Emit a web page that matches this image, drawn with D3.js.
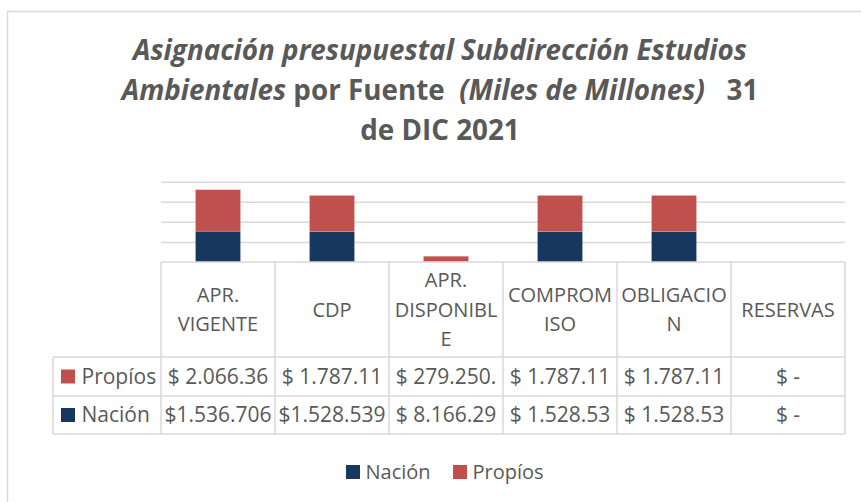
<!DOCTYPE html>
<html>
<head>
<meta charset="utf-8">
<script src="https://cdn.jsdelivr.net/npm/d3@7"></script>
<style>
  body { margin: 0; background: #fff; }
  text { font-family: "Open Sans", sans-serif; fill: #595959; }
</style>
</head>
<body>
<script>
// data
var categories = ["APR. VIGENTE", "CDP", "APR. DISPONIBLE", "COMPROMISO", "OBLIGACION", "RESERVAS"];
var headerLines = [["APR.", "VIGENTE"], ["CDP"], ["APR.", "DISPONIBL", "E"], ["COMPROM", "ISO"], ["OBLIGACIO", "N"], ["RESERVAS"]];
var nacion = [1536706, 1528539, 8166, 1528539, 1528539, 0];
var propios = [2066360, 1787110, 279250, 1787110, 1787110, 0];
// labels as shown (cut off by the table cells)
var nacionLabels = ["$1.536.706", "$1.528.539", "$ 8.166.29", "$ 1.528.53", "$ 1.528.53", "$ -"];
var propiosLabels = ["$ 2.066.36", "$ 1.787.11", "$ 279.250.", "$ 1.787.11", "$ 1.787.11", "$ -"];
var gridTicks = [1000000, 2000000, 3000000, 4000000];

var W = 861, H = 502;
var colorNacion = "#17375e", colorPropios = "#c0504d", lineColor = "#d9d9d9";

var svg = d3.select("body").append("svg")
    .attr("width", W)
    .attr("height", H);

// outer chart border
svg.append("rect")
    .attr("x", 7.5).attr("y", 11.5)
    .attr("width", 880).attr("height", 520)
    .attr("fill", "#fff")
    .attr("stroke", lineColor)
    .attr("stroke-width", 1.5);

// title
var title = [
    [{ t: "Asignación presupuestal Subdirección Estudios", i: true }],
    [{ t: "Ambientales", i: true }, { t: " por Fuente  ", i: false }, { t: "(Miles de Millones)", i: true }, { t: "   31", i: false }],
    [{ t: "de DIC 2021", i: false }]
];
var titleY = [60, 100, 140];
var titleNodes = [];
title.forEach(function (parts, k) {
    var t = svg.append("text")
        .attr("x", 440)
        .attr("y", titleY[k])
        .attr("text-anchor", "middle")
        .style("font-size", "28px")
        .style("font-weight", "bold")
        .style("white-space", "pre")
        .attr("xml:space", "preserve");
    parts.forEach(function (p) {
        t.append("tspan").text(p.t).style("font-style", p.i ? "italic" : "normal");
    });
    titleNodes.push(t);
});
// fit to the width of the original title (its font is narrower)
var ratio = 614 / titleNodes[0].node().getComputedTextLength();
titleNodes.forEach(function (t) {
    t.attr("textLength", t.node().getComputedTextLength() * ratio)
        .attr("lengthAdjust", "spacingAndGlyphs");
});

// plot area
var left = 161, right = 845, base = 262;
var x = d3.scaleBand().domain(categories).range([left, right]);
var y = d3.scaleLinear().domain([0, 4000000]).range([base, 181.7]);

svg.append("g")
    .attr("transform", "translate(" + left + ",0)")
    .call(d3.axisLeft(y).tickValues(gridTicks).tickSize(-(right - left)).tickFormat(""))
    .call(function (g) { g.select(".domain").remove(); })
    .selectAll("line")
    .attr("stroke", lineColor)
    .attr("stroke-width", 1.5);

var stacked = d3.stack().keys(["nacion", "propios"])(categories.map(function (c, i) {
    return { cat: c, nacion: nacion[i], propios: propios[i] };
}));
var colors = { nacion: colorNacion, propios: colorPropios };
var barW = x.bandwidth() * 0.395;

svg.selectAll(".serie")
    .data(stacked)
    .enter().append("g")
    .attr("fill", function (s) { return colors[s.key]; })
    .selectAll("rect")
    .data(function (s) { return s; })
    .enter().append("rect")
    .attr("x", function (d) { return x(d.data.cat) + (x.bandwidth() - barW) / 2; })
    .attr("width", barW)
    .attr("y", function (d) { return y(d[1]); })
    .attr("height", function (d) { return y(d[0]) - y(d[1]); })
    .attr("stroke", "rgba(255,255,255,0.4)")
    .attr("stroke-width", 0.5);

// data table
var rowTop = 357, rowMid = 396, rowBot = 434, legLeft = 53;
var grid = svg.append("g").attr("stroke", lineColor).attr("stroke-width", 1.5);
grid.append("line").attr("x1", left).attr("x2", right).attr("y1", base).attr("y2", base);
[rowTop, rowMid, rowBot].forEach(function (yy) {
    grid.append("line").attr("x1", legLeft).attr("x2", right).attr("y1", yy).attr("y2", yy);
});
grid.append("line").attr("x1", legLeft).attr("x2", legLeft).attr("y1", rowTop).attr("y2", rowBot);
categories.concat([null]).forEach(function (c) {
    var xx = c === null ? right : x(c);
    grid.append("line").attr("x1", xx).attr("x2", xx).attr("y1", base).attr("y2", rowBot);
});

// header texts
var headerMid = (base + rowTop) / 2, lineH = 29.5;
categories.forEach(function (c, i) {
    var lines = headerLines[i];
    var t = svg.append("text")
        .attr("text-anchor", "middle")
        .style("font-size", "20px");
    lines.forEach(function (l, k) {
        t.append("tspan")
            .attr("x", x(c) + x.bandwidth() / 2)
            .attr("y", headerMid + (k - (lines.length - 1) / 2) * lineH)
            .attr("dy", "0.35em")
            .text(l);
    });
});

// rows
var rows = [
    { name: "Propíos", color: colorPropios, labels: propiosLabels, top: rowTop, bot: rowMid },
    { name: "Nación", color: colorNacion, labels: nacionLabels, top: rowMid, bot: rowBot }
];
rows.forEach(function (r) {
    var cy = (r.top + r.bot) / 2;
    svg.append("rect")
        .attr("x", 61).attr("y", cy - 7)
        .attr("width", 14).attr("height", 14)
        .attr("fill", r.color);
    svg.append("text")
        .attr("x", 81.5).attr("y", cy).attr("dy", "0.35em")
        .style("font-size", "21px")
        .text(r.name);
    svg.selectAll(null)
        .data(r.labels)
        .enter().append("text")
        .attr("x", function (d, i) { return x(categories[i]) + x.bandwidth() / 2; })
        .attr("y", cy).attr("dy", "0.35em")
        .attr("text-anchor", "middle")
        .style("font-size", "21px")
        .text(function (d) { return d; });
});

// legend
var legend = [
    { name: "Nación", color: colorNacion, x: 346 },
    { name: "Propíos", color: colorPropios, x: 453 }
];
legend.forEach(function (l) {
    svg.append("rect")
        .attr("x", l.x).attr("y", 465)
        .attr("width", 14).attr("height", 14)
        .attr("fill", l.color);
    svg.append("text")
        .attr("x", l.x + 19.5).attr("y", 472).attr("dy", "0.35em")
        .style("font-size", "20px")
        .text(l.name);
});
</script>
</body>
</html>
